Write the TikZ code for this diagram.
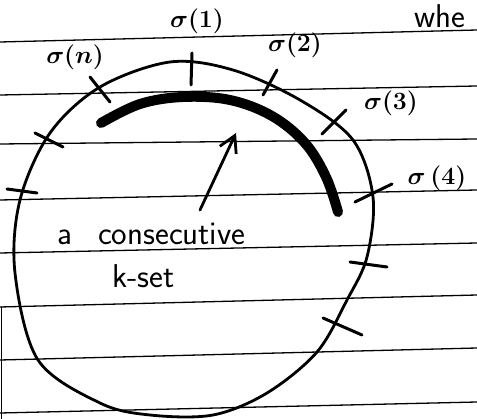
\documentclass[tikz,border=0pt]{standalone}
\usetikzlibrary{arrows.meta}
\tikzset{
  rule/.style={line width=1.3pt},
  rim/.style={line width=2.8pt},
  tickmark/.style={line width=3pt},
  lbl/.style={font=\boldmath\fontsize{32}{34}\selectfont, inner sep=0pt},
  txt/.style={font=\sffamily\fontsize{33}{36}\selectfont, inner sep=0pt}
}
\begin{document}
\begin{tikzpicture}[x=1pt, y=-1pt, line cap=round, line join=round]
  \useasboundingbox (0,0) rectangle (477,419);
  \foreach \l/\r in {42/30, 95/86, 144/139, 200/190, 253/243, 307/295, 360/348, 413/402}
    \draw[rule] (0,\l) -- (477,\r);
  \draw[rule] (1.5,307) -- (1.5,419);
  \draw[rim] plot[smooth cycle, tension=0.55] coordinates {(170,62) (233,70) (300,100) (353,140) (373,197) (367,257) (347,300) (317,352) (267,393) (213,415) (150,415) (100,403) (38,360) (15,273) (20,200) (50,133) (100,87)};
  \foreach \ax/\ay/\bx/\by in {90/77/110/102, 192/53/191/85, 277/70/263/95, 346/110/322/134, 355/202/392/184, 350/262/387/267, 323/318/362/335, 35/133/63/147, 7/189/37/193}
    \draw[tickmark] (\ax,\ay) -- (\bx,\by);
  \draw[line width=10pt] plot[smooth, tension=0.6] coordinates {(101,123) (140,104) (183,97) (230,100) (272,116) (305,143) (326,177) (338,212)};
  \node[lbl] (sn) at (75,57) {$\sigma(n)$};
  \node[lbl] (s1) at (197,21) {$\sigma(1)$};
  \node[lbl] (s2) at (295,45) {$\sigma(2)$};
  \node[lbl] (s3) at (391,103) {$\sigma(3)$};
  \node[lbl] (s4) at (437,178) {$\sigma\,(4)$};
  \node[txt, anchor=base west] (ac) at (57,245) {a\hspace{26pt}consecutive};
  \node[txt, anchor=base west] (ks) at (112,288) {k-set};
  \node[txt, anchor=base west] (wh) at (414,28) {whe};
  \coordinate (tail) at (200,210);
  \coordinate (tip) at (236,133);
  \draw[line width=2.8pt, -{Straight Barb[length=16pt,width=18pt]}] (tail) -- (tip);
\end{tikzpicture}
\end{document}
